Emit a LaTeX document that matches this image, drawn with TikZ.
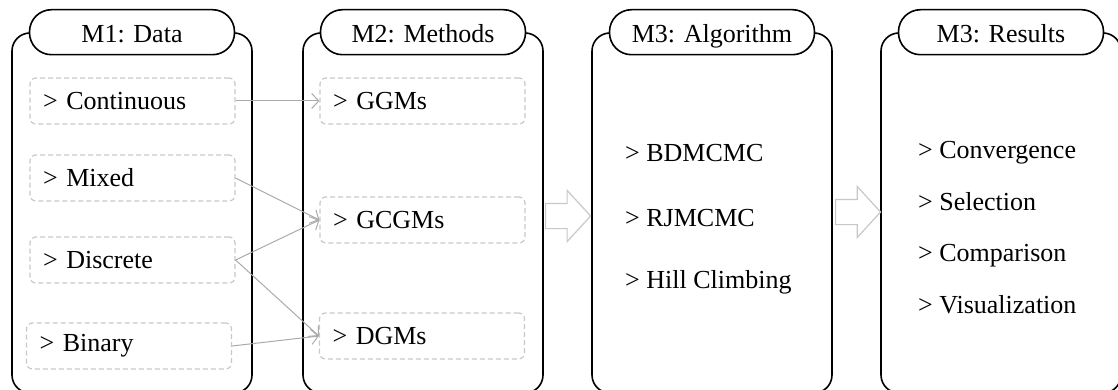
\documentclass[tikz,border=0pt]{standalone}
\usepackage{fontspec}
\setmainfont{Liberation Serif}
\usetikzlibrary{arrows.meta,shapes.arrows}
\definecolor{itemgray}{RGB}{200,200,200}
\definecolor{linkgray}{RGB}{170,170,170}
\tikzset{
  module box/.style={draw, line width=1.6pt, rounded corners=18pt,
    minimum width=240pt, minimum height=360pt, inner sep=0pt},
  module title/.style={draw, fill=white, line width=1.6pt, rounded corners=22pt,
    minimum width=205pt, minimum height=45pt, inner sep=0pt,
    text height=21pt, text depth=0pt},
  item box/.style={draw=itemgray, line width=1.2pt, dash pattern=on 5pt off 3pt,
    rounded corners=6pt, minimum height=46pt, text width=179pt, align=left,
    inner xsep=13pt, inner ysep=0pt},
  item/.style={anchor=base west, inner sep=0pt},
  link/.style={draw=linkgray, line width=1pt, -{Straight Barb[length=7pt,width=15pt]}},
  big arrow/.style={single arrow, draw=itemgray, fill=white, line width=1.2pt,
    minimum height=45pt, inner xsep=0pt, inner ysep=12pt, anchor=tail,
    single arrow head extend=13pt, single arrow tip angle=95}
}

\begin{document}
\begin{tikzpicture}[x=1pt,y=-1pt,font=\fontsize{26}{30}\selectfont]
\useasboundingbox (0,0) rectangle (1118,390);
% the four modules
\node[module box] (data) at (132,213) {};
\node[module box] (methods) at (423,213) {};
\node[module box] (algorithm) at (712,213) {};
\node[module box] (results) at (1001,213) {};
\node[module title] (datatitle) at (data.north) {M1: Data};
\node[module title] (methodstitle) at (methods.north) {M2: Methods};
\node[module title] (algorithmtitle) at (algorithm.north) {M3: Algorithm};
\node[module title] (resultstitle) at (results.north) {M3: Results};
% data and methods
\node[item box] (continuous) at (132.5,101) {> Continuous};
\node[item box] (mixed) at (132.5,178) {> Mixed};
\node[item box] (discrete) at (132.5,260) {> Discrete};
\node[item box] (binary) at (129,346) {> Binary};
\node[item box] (ggms) at (422.5,101) {> GGMs};
\node[item box] (gcgms) at (422.5,220) {> GCGMs};
\node[item box] (dgms) at (422,336) {> DGMs};
\draw[link] (continuous.east) -- (ggms.west);
\draw[link] (mixed.east) -- (gcgms.west);
\draw[link] (discrete.east) -- (gcgms.west);
\draw[link] (discrete.east) -- (dgms.west);
\draw[link] (binary.east) -- (dgms.west);
% algorithm
\node[item] (bdmcmc) at (625,162) {> BDMCMC};
\node[item] (rjmcmc) at (625,226) {> RJMCMC};
\node[item] (hill) at (625,288) {> Hill Climbing};
% results
\node[item] (convergence) at (918,159) {> Convergence};
\node[item] (selection) at (918,210) {> Selection};
\node[item] (comparison) at (918,261) {> Comparison};
\node[item] (visualization) at (918,313) {> Visualization};
% steps
\node[big arrow] (step23) at (545,216) {};
\node[big arrow] (step34) at (835,212) {};
\end{tikzpicture}
\end{document}
